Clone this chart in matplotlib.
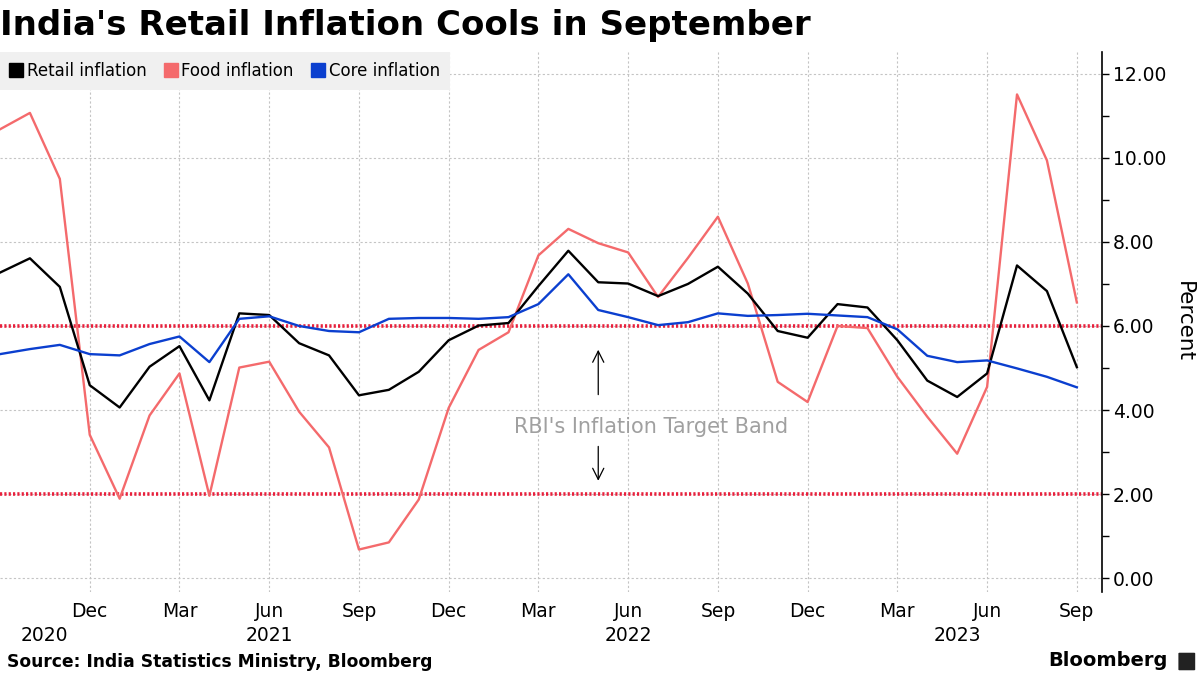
import matplotlib
matplotlib.use("Agg")
import matplotlib.pyplot as plt
from matplotlib.lines import Line2D
from matplotlib.patches import FancyBboxPatch
import matplotlib.transforms as mtransforms

# monthly readings, Sep 2020 .. Sep 2023
retail = [7.27, 7.61, 6.93, 4.59, 4.06, 5.03, 5.52, 4.23, 6.30, 6.26, 5.59, 5.30,
          4.35, 4.48, 4.91, 5.66, 6.01, 6.07, 6.95, 7.79, 7.04, 7.01, 6.71, 7.00,
          7.41, 6.77, 5.88, 5.72, 6.52, 6.44, 5.66, 4.70, 4.31, 4.87, 7.44, 6.83, 5.02]
food = [10.68, 11.07, 9.50, 3.41, 1.89, 3.87, 4.87, 1.96, 5.01, 5.15, 3.96, 3.11,
        0.68, 0.85, 1.87, 4.05, 5.43, 5.85, 7.68, 8.31, 7.97, 7.75, 6.69, 7.62,
        8.60, 7.01, 4.67, 4.19, 6.00, 5.95, 4.79, 3.84, 2.96, 4.55, 11.51, 9.94, 6.56]
core = [5.33, 5.45, 5.55, 5.33, 5.30, 5.57, 5.75, 5.14, 6.17, 6.23, 6.00, 5.88,
        5.85, 6.17, 6.19, 6.19, 6.17, 6.21, 6.52, 7.23, 6.38, 6.21, 6.02, 6.09,
        6.30, 6.24, 6.26, 6.29, 6.25, 6.21, 5.92, 5.29, 5.14, 5.18, 4.99, 4.79, 4.54]
months = list(range(len(retail)))

tick_pos = [3, 6, 9, 12, 15, 18, 21, 24, 27, 30, 33, 36]
tick_lab = ["Dec", "Mar", "Jun", "Sep"] * 3
year_pos = [1.5, 9, 21, 32]
year_lab = ["2020", "2021", "2022", "2023"]
band = [6.0, 2.0]

c_retail = "#000000"
c_food = "#f46a6c"
c_core = "#0b3fcf"

plt.rcParams['font.family'] = ['DejaVu Sans']

fig = plt.figure(figsize=(12, 6.75), dpi=100)
ax = fig.add_axes([0, 0.123, 0.9183, 0.80])

ax.set_xlim(0, 36.84)
ax.set_ylim(-0.33, 12.52)

# grid
ax.set_yticks([0, 2, 4, 6, 8, 10, 12])
ax.set_yticks([1, 3, 5, 7, 9, 11], minor=True)
ax.set_xticks(tick_pos)
ax.set_xticklabels(tick_lab)
ax.grid(True, which="major", color="#c4c4c4", linestyle=(0, (2, 2)), linewidth=0.8)

# target band lines
for b in band:
    ax.axhline(b, color="#e8203c", linestyle=(0, (0.6, 0.6)), linewidth=2.6, zorder=2)

ax.plot(months, food, color=c_food, linewidth=1.7, zorder=3)
ax.plot(months, retail, color=c_retail, linewidth=1.7, zorder=4)
ax.plot(months, core, color=c_core, linewidth=1.7, zorder=5)

# annotation
ax.text(21.75, 3.6, "RBI's Inflation Target Band", color="#a0a0a0", fontsize=15,
        ha="center", va="center")
ax.annotate("", xy=(20, 5.5), xytext=(20, 4.3),
            arrowprops=dict(arrowstyle="->", color="black", lw=0.9, mutation_scale=20))
ax.annotate("", xy=(20, 2.25), xytext=(20, 3.2),
            arrowprops=dict(arrowstyle="->", color="black", lw=0.9, mutation_scale=20))

# axes styling
for s in ["left", "top", "bottom"]:
    ax.spines[s].set_visible(False)
ax.spines["right"].set_color("black")
ax.spines["right"].set_linewidth(1.2)
ax.yaxis.tick_right()
ax.yaxis.set_major_formatter(matplotlib.ticker.FuncFormatter(lambda v, p: f"{v:.2f}"))
ax.tick_params(axis="y", which="both", length=5, width=1, direction="out", labelsize=13.5, pad=3)
ax.tick_params(axis="x", length=0, labelsize=13.5, pad=7)
ax.yaxis.set_label_position("right")
ax.set_ylabel("Percent", fontsize=15.5, rotation=270, labelpad=20)

trans = mtransforms.blended_transform_factory(ax.transData, ax.transAxes)
for xp, yl in zip(year_pos, year_lab):
    ax.text(xp, -0.081, yl, transform=trans, ha="center", va="center", fontsize=13.5)

# legend
handles = [Line2D([], [], marker="s", linestyle="none", markersize=10, color=c)
           for c in [c_retail, c_food, c_core]]
leg = ax.legend(handles, ["Retail inflation", "Food inflation", "Core inflation"],
                loc="upper left", bbox_to_anchor=(0, 1), ncol=3, fontsize=12,
                frameon=True, fancybox=False, handlelength=0.7, handletextpad=0.3,
                columnspacing=1.1, borderaxespad=0.0, borderpad=0.6)
leg.get_frame().set_facecolor("#f0f0f0")
leg.get_frame().set_edgecolor("none")
leg.get_frame().set_alpha(1)

# title and footer
fig.text(0.0, 0.962, "India's Retail Inflation Cools in September", fontsize=24.5,
         fontweight="bold", ha="left", va="center")
fig.text(0.006, 0.019, "Source: India Statistics Ministry, Bloomberg", fontsize=12.3,
         fontweight="bold", ha="left", va="center")
fig.text(0.973, 0.022, "Bloomberg", fontsize=14, fontweight="bold", ha="right", va="center")
fig.patches.append(FancyBboxPatch((0.983, 0.008), 0.012, 0.024, boxstyle="round,pad=0.001",
                                  transform=fig.transFigure, facecolor="#222222",
                                  edgecolor="none", figure=fig))

fig.savefig("out.png", dpi=100)
